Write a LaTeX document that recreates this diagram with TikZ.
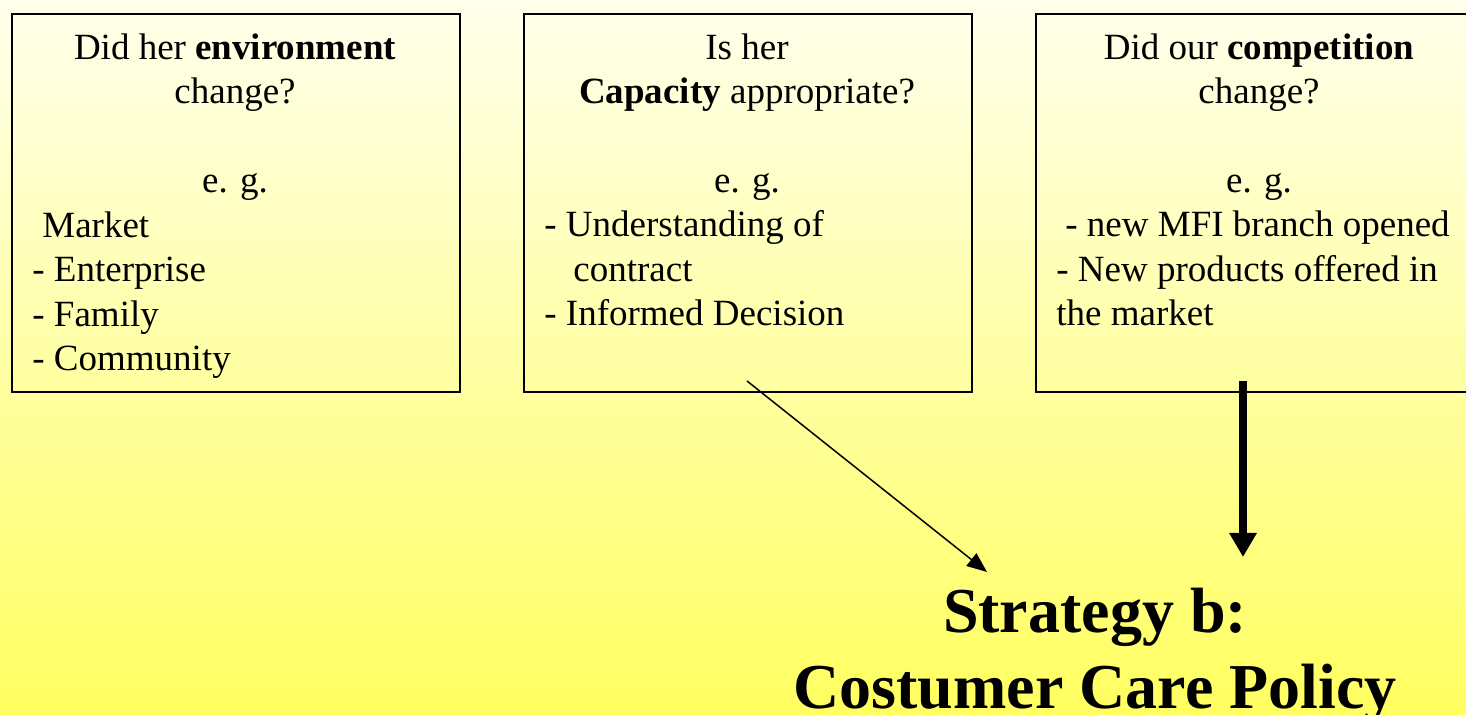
\documentclass[tikz,border=0pt]{standalone}
\usepackage{fontspec}
\setmainfont{Liberation Serif}
\usetikzlibrary{arrows.meta}
\definecolor{paletop}{RGB}{255,255,236}
\definecolor{deepyellow}{RGB}{255,255,96}
\begin{document}
\begin{tikzpicture}[x=0.5pt,y=-0.5pt,
        frame/.style = {draw, line width=1pt, minimum width=224pt, minimum height=189pt, inner sep=0pt, anchor=north west},
        head/.style = {anchor=base, align=center, inner sep=0pt, font=\fontsize{18.5}{22.3}\selectfont},
        items/.style = {anchor=base west, align=left, inner sep=0pt, font=\fontsize{18.5}{22.3}\selectfont},
        goal/.style = {anchor=base, align=center, inner sep=0pt, font=\fontsize{32}{38}\selectfont\bfseries}]
        \useasboundingbox (0,0) rectangle (1466,715);
        \shade[top color=paletop, bottom color=deepyellow] (0,0) rectangle (1466,715);
        \node[frame] (env) at (11,13) {};
        \node[frame] (cap) at (523,13) {};
        \node[frame] (comp) at (1035,13) {};
        % the base of a node is its last line
        \node[head] (envq) at (235,193) {Did her \textbf{environment}\\change?\\[22.3pt]e. g.};
        \node[head] (capq) at (747,193) {Is her\\\textbf{Capacity} appropriate?\\[22.3pt]e. g.};
        \node[head] (compq) at (1259,193) {Did our \textbf{competition}\\change?\\[22.3pt]e. g.};
        \node[items] (envl) at (32,371) {\hspace{5pt}Market\\- Enterprise\\- Family\\- Community};
        \node[items] (capl) at (544,326) {- Understanding of\\\hspace{14.5pt}contract\\- Informed Decision};
        \node[items] (compl) at (1056,326) {\hspace{4.5pt}- new MFI branch opened\\- New products offered in\\the market};
        \node[goal] (policy) at (1095,708) {Strategy b:\\Costumer Care Policy};
        \coordinate (capfoot) at (747,381);
        \coordinate (goalleft) at (987,572);
        \coordinate (compfoot) at (1243,381);
        \coordinate (goalright) at (1243,557);
        \draw[line width=0.75pt, -{Triangle[length=10pt,width=8pt]}] (capfoot) -- (goalleft);
        \draw[line width=3.8pt, -{Triangle[length=12pt,width=13pt]}] (compfoot) -- (goalright);
        \end{tikzpicture}
\end{document}
